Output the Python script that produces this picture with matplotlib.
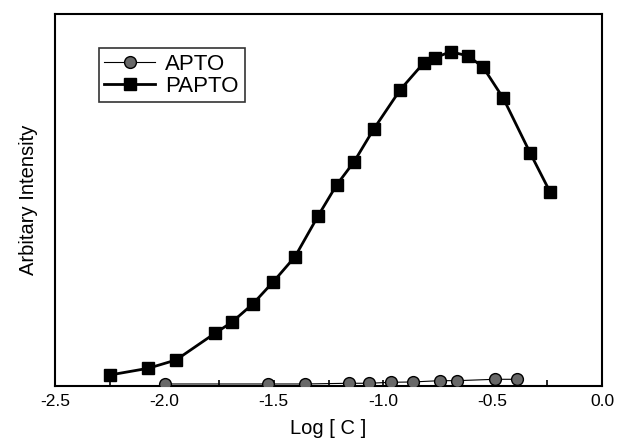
import numpy as np
import matplotlib
matplotlib.use('Agg')
import matplotlib.pyplot as plt
from matplotlib.ticker import MultipleLocator, FormatStrFormatter

plt.rcParams['font.family'] = ['Liberation Sans', 'DejaVu Sans']

# APTO
apto_x = [-1.997, -1.525, -1.357, -1.155, -1.064, -0.966, -0.865, -0.740, -0.661, -0.489, -0.390]
apto_y = [0.46, 0.46, 0.46, 0.65, 0.65, 0.91, 1.0, 1.35, 1.35, 1.72, 1.72]

# PAPTO
papto_x = [-2.249, -2.074, -1.947, -1.769, -1.692, -1.596, -1.502, -1.403, -1.297, -1.213,
           -1.133, -1.044, -0.923, -0.814, -0.763, -0.692, -0.611, -0.543, -0.451, -0.329, -0.238]
papto_y = [2.88, 4.68, 6.91, 14.10, 17.06, 21.98, 27.98, 34.71, 45.74, 54.00,
           60.26, 68.98, 79.56, 86.90, 88.24, 89.86, 88.70, 85.66, 77.32, 62.69, 52.19]

fig = plt.figure(figsize=(6.21, 4.45), dpi=100)
ax = fig.add_axes([0.0886, 0.1333, 0.8808, 0.8352])

ax.plot(apto_x, apto_y, color='black', linewidth=0.8, marker='o', markersize=8.5,
        markerfacecolor='#686868', markeredgecolor='black', markeredgewidth=1.0,
        label='APTO', zorder=3)
ax.plot(papto_x, papto_y, color='black', linewidth=2.0, marker='s', markersize=8.5,
        markerfacecolor='black', markeredgecolor='black', label='PAPTO', zorder=4)

ax.set_xlim(-2.5, 0.0)
ax.set_ylim(0, 100)
ax.xaxis.set_major_locator(MultipleLocator(0.5))
ax.xaxis.set_minor_locator(MultipleLocator(0.25))
ax.xaxis.set_major_formatter(FormatStrFormatter('%.1f'))
ax.tick_params(axis='x', which='both', direction='in', length=4, width=1.2,
               labelsize=12.5, pad=6)
ax.set_yticks([])

for s in ax.spines.values():
    s.set_linewidth(1.5)

ax.set_xlabel('Log [ C ]', fontsize=14.5, labelpad=7)
ax.set_ylabel('Arbitary Intensity', fontsize=14.5, labelpad=12)

leg = ax.legend(loc='upper left', bbox_to_anchor=(0.080, 0.908), fontsize=16,
                frameon=True, fancybox=False, shadow=False, borderaxespad=0,
                handlelength=2.3, handletextpad=0.45, labelspacing=0.05, borderpad=0.25)
leg.get_frame().set_edgecolor('black')
leg.get_frame().set_linewidth(1.2)

plt.savefig('out.png', dpi=100)
plt.close()
